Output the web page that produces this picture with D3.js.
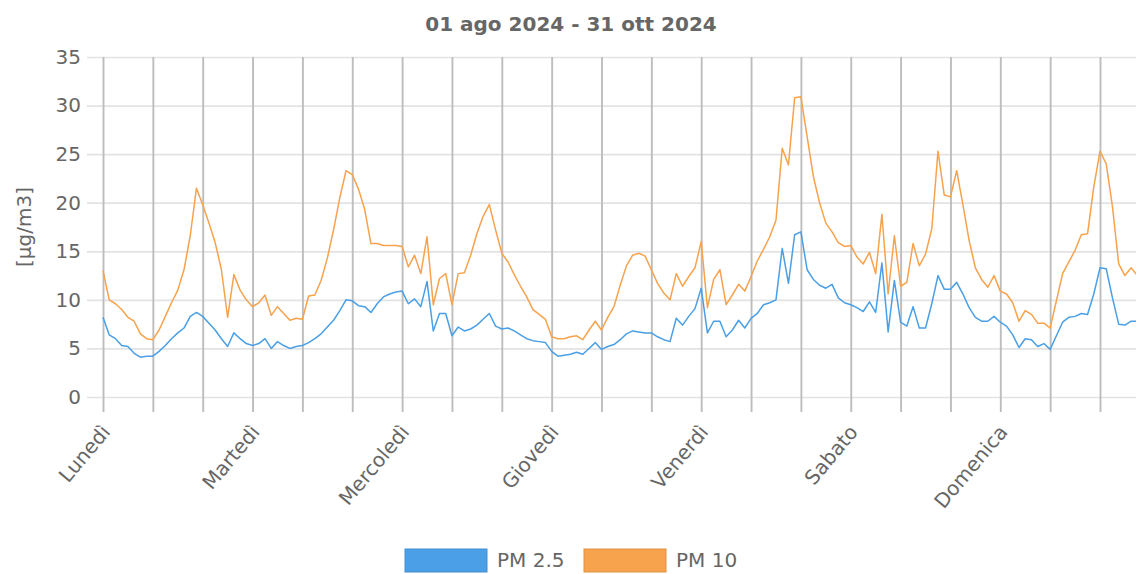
<!DOCTYPE html>
<html>
<head>
<meta charset="utf-8">
<script src="https://cdn.jsdelivr.net/npm/d3@7"></script>
<style>
  html, body { margin: 0; padding: 0; background: #fff; }
  svg { display: block; font-family: "DejaVu Sans", sans-serif; }
</style>
</head>
<body>
<svg id="chart" width="1136" height="574"></svg>
<script>
const title = "01 ago 2024 - 31 ott 2024";
const yTitle = "[µg/m3]";
const dayLabels = ["Lunedì", "Martedì", "Mercoledì", "Giovedì", "Venerdì", "Sabato", "Domenica"];
const yTicks = [0, 5, 10, 15, 20, 25, 30, 35];
const seriesNames = ["PM 2.5", "PM 10"];

// hourly averages, Monday 00:00 -> Sunday
const pm25 = [
  8.2, 6.4, 6.0, 5.3, 5.2, 4.5, 4.1, 4.2, 4.2, 4.7, 5.3, 6.0, 6.6, 7.1, 8.3, 8.7, 8.3, 7.6, 6.9, 6.0, 5.2, 6.6, 6.0, 5.5,
  5.3, 5.5, 6.0, 5.0, 5.7, 5.3, 5.0, 5.2, 5.3, 5.6, 6.0, 6.5, 7.2, 7.9, 8.9, 10.0, 9.9, 9.4, 9.3, 8.7, 9.6, 10.3, 10.6, 10.8,
  10.9, 9.6, 10.1, 9.3, 11.9, 6.8, 8.6, 8.6, 6.3, 7.2, 6.8, 7.0, 7.4, 8.0, 8.6, 7.3, 7.0, 7.1, 6.8, 6.4, 6.0, 5.8, 5.7, 5.6,
  4.7, 4.2, 4.3, 4.4, 4.6, 4.4, 5.0, 5.6, 4.9, 5.2, 5.4, 5.9, 6.5, 6.8, 6.7, 6.6, 6.6, 6.2, 5.9, 5.7, 8.1, 7.4, 8.3, 9.1,
  11.2, 6.6, 7.8, 7.8, 6.2, 6.9, 7.9, 7.1, 8.1, 8.6, 9.5, 9.7, 10.0, 15.3, 11.7, 16.7, 17.0, 13.1, 12.1, 11.5, 11.2, 11.6, 10.2, 9.7,
  9.5, 9.2, 8.8, 9.8, 8.7, 13.8, 6.7, 12.0, 7.7, 7.3, 9.3, 7.1, 7.1, 9.6, 12.5, 11.1, 11.1, 11.8, 10.6, 9.2, 8.2, 7.8, 7.8, 8.3,
  7.7, 7.3, 6.4, 5.1, 6.0, 5.9, 5.2, 5.5, 4.9, 6.3, 7.7, 8.2, 8.3, 8.6, 8.5, 10.6, 13.3, 13.2, 10.2, 7.5, 7.4, 7.8, 7.8
];
const pm10 = [
  13.0, 10.0, 9.6, 9.0, 8.2, 7.8, 6.5, 6.0, 5.9, 6.9, 8.3, 9.7, 11.0, 13.1, 16.6, 21.5, 19.8, 17.9, 15.9, 13.1, 8.2, 12.6, 11.0, 10.0,
  9.3, 9.7, 10.5, 8.4, 9.3, 8.6, 7.9, 8.1, 8.0, 10.4, 10.5, 12.0, 14.3, 17.2, 20.5, 23.3, 22.9, 21.4, 19.3, 15.8, 15.8, 15.6, 15.6, 15.6,
  15.5, 13.4, 14.6, 12.7, 16.5, 9.5, 12.2, 12.7, 9.5, 12.7, 12.8, 14.6, 16.8, 18.6, 19.8, 17.2, 14.8, 13.9, 12.6, 11.4, 10.3, 9.0, 8.5, 8.0,
  6.2, 6.0, 6.0, 6.2, 6.3, 5.9, 6.9, 7.8, 6.9, 8.2, 9.3, 11.5, 13.5, 14.6, 14.8, 14.5, 13.1, 11.7, 10.7, 10.0, 12.7, 11.4, 12.4, 13.3,
  16.0, 9.2, 12.1, 13.1, 9.5, 10.5, 11.6, 10.9, 12.4, 14.0, 15.2, 16.5, 18.2, 25.6, 23.9, 30.8, 30.9, 26.8, 22.7, 20.0, 17.9, 17.0, 15.9, 15.5,
  15.6, 14.4, 13.7, 14.9, 12.7, 18.8, 10.6, 16.6, 11.4, 11.8, 15.8, 13.5, 14.7, 17.3, 25.3, 20.8, 20.6, 23.3, 19.8, 16.1, 13.3, 12.1, 11.3, 12.5,
  10.9, 10.6, 9.7, 7.8, 8.9, 8.5, 7.6, 7.6, 7.1, 9.9, 12.7, 13.9, 15.1, 16.7, 16.8, 21.6, 25.3, 24.0, 19.6, 13.7, 12.5, 13.3, 12.5
];
const colors = ["#4a9fe6", "#f7a24c"];

const svg = d3.select("#chart");
const plotLeft = 103, plotRight = 1136, plotTop = 57, plotBottom = 397;

const x = d3.scaleLinear().domain([0, 160]).range([103, 1100]);
const y = d3.scaleLinear().domain([0, 35]).range([plotBottom, plotTop]);

const textColor = "#666";

// title
svg.append("text")
  .attr("x", 571).attr("y", 31)
  .attr("text-anchor", "middle")
  .attr("font-size", 20).attr("font-weight", "bold")
  .attr("fill", textColor)
  .text(title);

// horizontal grid + y ticks
const yAxis = d3.axisLeft(y).tickValues(yTicks).tickSize(-(plotRight - 87)).tickPadding(6);
const gy = svg.append("g").attr("transform", `translate(87,0)`).call(yAxis);
gy.select(".domain").remove();
gy.selectAll(".tick line").attr("stroke", "#e3e3e3").attr("stroke-width", 1.7);
gy.selectAll(".tick text").attr("font-size", 20).attr("fill", textColor)
  .attr("font-family", "DejaVu Sans, sans-serif").attr("x", -6);

// vertical grid every 8 hours
const hourTicks = d3.range(0, 161, 8);
const xAxis = d3.axisBottom(x).tickValues(hourTicks).tickSize(-(plotBottom - plotTop)).tickFormat("");
const gx = svg.append("g").attr("transform", `translate(0,${plotBottom})`).call(xAxis);
gx.select(".domain").remove();
gx.selectAll(".tick line").attr("stroke", "#bdbdbd").attr("stroke-width", 1.9)
  .attr("y1", 15).attr("y2", -(plotBottom - plotTop));

// day labels
svg.append("g").selectAll("text")
  .data(dayLabels)
  .join("text")
  .attr("transform", (d, i) => `translate(${x(i * 24) + 4},${429}) rotate(-50)`)
  .attr("text-anchor", "end")
  .attr("dominant-baseline", "middle")
  .attr("font-size", 20)
  .attr("fill", textColor)
  .text(d => d);

// y title
svg.append("text")
  .attr("transform", `translate(25,${(plotTop + plotBottom) / 2}) rotate(-90)`)
  .attr("text-anchor", "middle")
  .attr("dominant-baseline", "middle")
  .attr("font-size", 20)
  .attr("fill", textColor)
  .text(yTitle);

// lines
svg.append("clipPath").attr("id", "plotclip")
  .append("rect").attr("x", plotLeft - 2).attr("y", plotTop - 5).attr("width", plotRight - plotLeft + 4).attr("height", plotBottom - plotTop + 10);

const line = d3.line().x((d, i) => x(i)).y(d => y(d));
const plot = svg.append("g").attr("clip-path", "url(#plotclip)");
[pm25, pm10].forEach((s, k) => {
  plot.append("path")
    .datum(s)
    .attr("fill", "none")
    .attr("stroke", colors[k])
    .attr("stroke-width", 1.5)
    .attr("stroke-linejoin", "round")
    .attr("d", line);
});

// legend
const legendItems = [
  { name: seriesNames[0], color: colors[0], x: 405 },
  { name: seriesNames[1], color: colors[1], x: 584 }
];
const lg = svg.append("g");
legendItems.forEach(it => {
  lg.append("rect")
    .attr("x", it.x).attr("y", 549).attr("width", 82).attr("height", 23)
    .attr("fill", it.color).attr("stroke", d3.color(it.color).darker(0.3)).attr("stroke-width", 1);
  lg.append("text")
    .attr("x", it.x + 92).attr("y", 561)
    .attr("dominant-baseline", "middle")
    .attr("font-size", 20).attr("fill", textColor)
    .text(it.name);
});
</script>
</body>
</html>
